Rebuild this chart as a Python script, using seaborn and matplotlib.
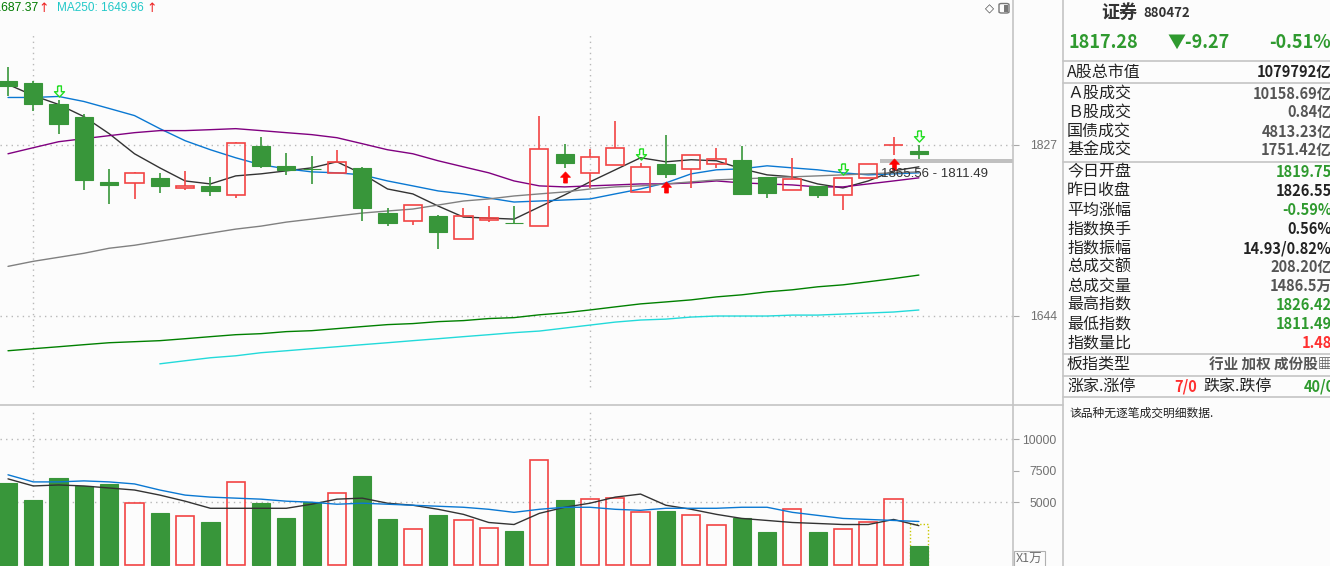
import numpy as np
import pandas as pd
import matplotlib
matplotlib.use("Agg")
import matplotlib.pyplot as plt
import matplotlib.transforms as mtransforms
from matplotlib.lines import Line2D
from matplotlib.patches import FancyBboxPatch
import seaborn as sns

# ── Daily candles (index 880472 证券) ─────────────────────────
opens = [1894.8, 1892.7, 1870.1, 1857.1, 1787.2, 1786.1, 1791.5, 1780.7, 1782.9, 1773.2,
         1825.9, 1804.4, 1801.2, 1796.9, 1802.2, 1753.8, 1745.2, 1750.6, 1725.8, 1746.3,
         1743.6, 1739.8, 1817.3, 1796.9, 1805.5, 1776.4, 1806.5, 1801.2, 1806.5, 1810.9,
         1792.6, 1778.6, 1782.9, 1773.2, 1791.5, 1826.4, 1819.75]
closes = [1889.4, 1871.1, 1849.6, 1789.3, 1783.9, 1796.9, 1782.9, 1782.9, 1777.5, 1829.2,
          1804.4, 1800.1, 1800.6, 1808.7, 1759.2, 1743.0, 1762.4, 1733.3, 1750.6, 1748.4,
          1743.0, 1822.7, 1807.6, 1814.1, 1823.8, 1803.3, 1795.8, 1816.2, 1811.9, 1774.3,
          1775.3, 1790.4, 1773.2, 1791.5, 1806.5, 1826.55, 1817.28]
highs = [1909.9, 1894.8, 1874.4, 1860.4, 1801.2, 1797.9, 1796.9, 1799.0, 1792.6, 1830.2,
         1835.6, 1818.4, 1815.2, 1821.6, 1803.3, 1759.2, 1762.4, 1751.6, 1759.2, 1761.3,
         1761.3, 1858.2, 1828.1, 1822.7, 1852.8, 1807.6, 1837.8, 1816.2, 1823.8, 1825.9,
         1792.6, 1813.0, 1782.9, 1791.5, 1806.5, 1835.6, 1826.42]
lows = [1879.7, 1863.6, 1838.8, 1778.6, 1763.5, 1768.9, 1775.3, 1778.6, 1772.1, 1769.9,
        1802.2, 1794.7, 1785.0, 1796.9, 1745.2, 1739.8, 1740.9, 1715.0, 1725.8, 1744.1,
        1743.0, 1739.8, 1802.2, 1780.7, 1805.5, 1776.4, 1791.5, 1780.7, 1802.2, 1774.3,
        1769.9, 1778.6, 1769.9, 1757.0, 1791.5, 1816.2, 1811.49]

# moving averages
ma5 = [1891.6, 1879.7, 1870.1, 1857.1, 1838.8, 1817.3, 1802.2, 1788.2, 1785.0, 1793.6,
       1795.8, 1799.0, 1802.2, 1808.7, 1795.8, 1779.6, 1774.3, 1761.3, 1749.5, 1748.4,
       1747.3, 1760.3, 1773.2, 1787.2, 1800.1, 1813.0, 1808.7, 1810.9, 1809.8, 1801.2,
       1794.7, 1792.6, 1785.0, 1780.7, 1788.2, 1799.0, 1803.3]
ma10 = [1877.6, 1877.6, 1878.7, 1873.3, 1865.8, 1858.2, 1844.2, 1831.3, 1821.6, 1813.0,
        1805.5, 1801.2, 1797.9, 1796.9, 1794.7, 1788.2, 1782.9, 1777.5, 1774.3, 1769.9,
        1765.6, 1766.7, 1767.8, 1768.9, 1774.3, 1779.6, 1786.1, 1795.8, 1800.1, 1801.2,
        1804.4, 1802.2, 1800.1, 1796.9, 1794.7, 1795.8, 1796.9]
ma20 = [1817.3, 1823.8, 1830.2, 1833.5, 1836.7, 1839.9, 1842.1, 1842.1, 1843.1, 1844.2,
        1842.1, 1839.9, 1837.8, 1834.5, 1828.1, 1821.6, 1817.3, 1809.8, 1803.3, 1796.9,
        1788.2, 1782.9, 1781.8, 1782.9, 1783.9, 1785.0, 1785.0, 1786.1, 1788.2, 1786.1,
        1785.0, 1783.9, 1781.8, 1781.8, 1785.0, 1788.2, 1791.5]
ma60 = [1696.7, 1702.1, 1706.4, 1710.7, 1716.1, 1719.3, 1723.7, 1728.0, 1732.3, 1736.6,
        1739.8, 1744.1, 1747.3, 1750.6, 1753.8, 1756.0, 1758.1, 1762.4, 1766.7, 1768.9,
        1772.1, 1774.3, 1776.4, 1779.6, 1781.8, 1782.9, 1785.0, 1787.2, 1789.3, 1790.4,
        1791.5, 1792.6, 1793.6, 1794.7, 1795.8, 1796.9, 1797.9]
ma120 = [1606.3, 1608.5, 1610.6, 1612.8, 1614.9, 1616.0, 1617.1, 1619.2, 1621.4, 1623.5,
         1624.6, 1626.8, 1627.8, 1630.0, 1632.2, 1634.3, 1635.4, 1637.5, 1638.6, 1640.8,
         1641.8, 1644.8, 1647.0, 1650.0, 1653.3, 1656.5, 1658.6, 1660.8, 1664.0, 1666.2,
         1669.4, 1671.6, 1674.8, 1676.9, 1680.2, 1683.6, 1687.37]
ma250 = [None, None, None, None, None, None, 1592.3, 1595.6, 1598.8, 1600.9,
         1604.2, 1606.3, 1608.5, 1610.6, 1612.8, 1614.9, 1617.1, 1619.2, 1621.4, 1623.5,
         1625.7, 1627.4, 1630.6, 1633.8, 1637.0, 1639.2, 1640.2, 1642.4, 1643.5, 1643.5,
         1643.5, 1644.5, 1644.5, 1645.6, 1646.7, 1647.8, 1649.96]

volumes = [6533, 5161, 6936, 6291, 6452, 4920, 4113, 3871, 3387, 6613,
           4920, 3710, 5000, 5726, 7097, 3629, 2903, 3952, 3548, 2984,
           2742, 8387, 5161, 5242, 5323, 4194, 4274, 3952, 3226, 3710,
           2661, 4436, 2661, 2903, 3387, 5242, 1486.5]
vol_ma5 = [6855, 6291, 6371, 6291, 6129, 5968, 5565, 5081, 4516, 4516,
           4516, 4516, 4839, 5242, 5323, 4920, 4758, 4436, 4033, 3387,
           3226, 4113, 4597, 4920, 5404, 5646, 4758, 4436, 4033, 3710,
           3549, 3387, 3307, 3226, 3226, 3629, 3136]
vol_ma10 = [7178, 6613, 6613, 6694, 6613, 6452, 5968, 5565, 5404, 5323,
            5242, 5081, 5000, 4839, 4920, 4839, 4758, 4678, 4597, 4436,
            4194, 4436, 4597, 4597, 4436, 4355, 4516, 4516, 4516, 4597,
            4597, 4194, 3952, 3710, 3629, 3549, 3468]
est_volume = 3280          # projected full-day volume of the last bar

sell_signals = [2, 25, 33, 36]
buy_signals = [22, 26, 35]
month_starts = [1, 23]

price_ticks = [1827, 1644]
vol_ticks = [10000, 7500, 5000]
vol_grid = [10000, 5000]
band_price = (1807.6, 1811.9)
range_text = "1865.56 - 1811.49"

info_sections = [
    [("A股总市值", "1079792亿", "dark")],
    [("Ａ股成交", "10158.69亿", "gray"), ("Ｂ股成交", "0.84亿", "gray"),
     ("国债成交", "4813.23亿", "gray"), ("基金成交", "1751.42亿", "gray")],
    [("今日开盘", "1819.75", "green"), ("昨日收盘", "1826.55", "dark"),
     ("平均涨幅", "-0.59%", "green"), ("指数换手", "0.56%", "dark"),
     ("指数振幅", "14.93/0.82%", "dark"), ("总成交额", "208.20亿", "gray"),
     ("总成交量", "1486.5万", "gray"), ("最高指数", "1826.42", "green"),
     ("最低指数", "1811.49", "green"), ("指数量比", "1.48", "red")],
    [("板指类型", "行业 加权 成份股▦", "gray")],
]

# ── Style ──────────────────────────────────────────────────
BG = "#fcfcfc"
RED = "#f24444"
GREEN = "#38963a"
TXT_GREEN = "#2f9a2f"
LIME = "#22dd22"
LINE = "#c4c4c4"
COLORS = {"dark": "#222222", "gray": "#555555", "green": TXT_GREEN, "red": "#ff3030"}
MA_COLORS = {"MA5": "#333333", "MA10": "#0a78d2", "MA20": "#800080",
             "MA60": "#808080", "MA120": "#008000", "MA250": "#22dada"}

W, H = 1330, 566


def fx(px):
    return px / W


def fy(py):
    return 1 - py / H


sns.set_theme(style="white")
plt.rcParams["font.family"] = ["Noto Sans CJK SC", "DejaVu Sans"]
plt.rcParams["axes.unicode_minus"] = False

fig = plt.figure(figsize=(13.3, 5.66), dpi=100, facecolor=BG)
ax = fig.add_axes([0, fy(405), fx(1013), 405 / H], facecolor=BG)
axv = fig.add_axes([0, 0, fx(1013), 161 / H], facecolor=BG)

idx = np.arange(len(closes))
o, c = np.array(opens), np.array(closes)
hi, lo = np.array(highs), np.array(lows)
up = c >= o
body_lo = np.minimum(o, c)
body_hi = np.maximum(o, c)
body_h = np.maximum(body_hi - body_lo, 0.3)

# ── Price panel ────────────────────────────────────────────
ma_df = pd.DataFrame({"idx": idx, "MA5": ma5, "MA10": ma10, "MA20": ma20,
                      "MA60": ma60, "MA120": ma120,
                      "MA250": pd.to_numeric(pd.Series(ma250), errors="coerce")})
for name, col in MA_COLORS.items():
    sub = ma_df[["idx", name]].dropna()
    sns.lineplot(data=sub, x="idx", y=name, color=col, lw=1.0, ax=ax,
                 estimator=None, sort=False, legend=False, zorder=2)

# wicks
ax.vlines(idx[~up], lo[~up], hi[~up], color=GREEN, lw=1.2, zorder=3)
ax.vlines(idx[up], body_hi[up], hi[up], color=RED, lw=1.2, zorder=3)
ax.vlines(idx[up], lo[up], body_lo[up], color=RED, lw=1.2, zorder=3)
# bodies
ax.bar(idx[~up], body_h[~up], bottom=body_lo[~up], width=0.72,
       color=GREEN, edgecolor=GREEN, lw=0.8, zorder=4)
ax.bar(idx[up], body_h[up], bottom=body_lo[up], width=0.72,
       facecolor="none", edgecolor=RED, lw=1.2, zorder=4)

# buy / sell arrows
up_arrow = [(-0.17, -0.5), (0.17, -0.5), (0.17, 0.02), (0.45, 0.02), (0, 0.5),
            (-0.45, 0.02), (-0.17, 0.02), (-0.17, -0.5)]
down_arrow = [(x, -y) for x, y in up_arrow]
above = mtransforms.offset_copy(ax.transData, fig=fig, y=6.5, units="points")
below = mtransforms.offset_copy(ax.transData, fig=fig, y=-6.5, units="points")
ax.plot(idx[sell_signals], hi[sell_signals], ls="none", marker=down_arrow, ms=8,
        mfc="none", mec=LIME, mew=1.0, transform=above, zorder=5)
ax.plot(idx[buy_signals], lo[buy_signals], ls="none", marker=up_arrow, ms=8,
        mfc="#ff0000", mec="#ff0000", mew=0.5, transform=below, zorder=5)

xlim = (-0.316, 39.72)
ax.set_xlim(*xlim)
ax.set_ylim(1548.2, 1982.0)

# grid
for p in price_ticks:
    ax.axhline(p, color="#b8b8b8", lw=1, ls=(0, (1, 3)), zorder=1)
for m in month_starts:
    ax.axvline(m, ymin=0.044, ymax=0.915, color="#b8b8b8", lw=1, ls=(0, (1, 3)), zorder=1)

# selected range band and label
band_x0 = 34.47
ax.axhspan(*band_price, xmin=(band_x0 - xlim[0]) / (xlim[1] - xlim[0]), xmax=1,
           color="#c0c0c0", lw=0, zorder=1)
ax.text(band_x0 + 0.05, 1795.8, range_text, ha="left", va="center", fontsize=9.5,
        color="#333333", family=["Liberation Sans Narrow", "Liberation Sans"], zorder=6)

ax.yaxis.tick_right()
ax.set_yticks(price_ticks)
ax.set_yticklabels([str(p) for p in price_ticks], ha="right")
ax.tick_params(axis="y", direction="out", length=4.5, width=0.8, color="#a8a8a8",
               pad=27, labelcolor="#707070", labelsize=8.8, right=True,
               labelfontfamily="Liberation Sans")
ax.set_xticks([])
ax.set_xlabel("")
ax.set_ylabel("")
for s in ax.spines.values():
    s.set_visible(False)

# ── Volume panel ───────────────────────────────────────────
vol_df = pd.DataFrame({"idx": idx, "vol": volumes, "ma5": vol_ma5, "ma10": vol_ma10})
sns.barplot(data=vol_df, x="idx", y="vol", native_scale=True, width=0.72,
            color=GREEN, errorbar=None, ax=axv, zorder=3)
for patch in axv.patches:
    i = int(round(patch.get_x() + patch.get_width() / 2))
    if up[i]:
        patch.set_facecolor("none")
        patch.set_edgecolor(RED)
        patch.set_linewidth(1.2)
    else:
        patch.set_facecolor(GREEN)
        patch.set_edgecolor(GREEN)
        patch.set_linewidth(0.8)
axv.bar(idx[-1], est_volume, width=0.72, facecolor="none", edgecolor="#c8c800",
        lw=1.0, ls=(0, (1, 1.5)), zorder=2)
sns.lineplot(data=vol_df, x="idx", y="ma5", color=MA_COLORS["MA5"], lw=1.0, ax=axv,
             estimator=None, sort=False, legend=False, zorder=4)
sns.lineplot(data=vol_df, x="idx", y="ma10", color=MA_COLORS["MA10"], lw=1.0, ax=axv,
             estimator=None, sort=False, legend=False, zorder=4)

axv.set_xlim(*xlim)
axv.set_ylim(-72, 12727)
for v in vol_grid:
    axv.axhline(v, color="#b8b8b8", lw=1, ls=(0, (1, 3)), zorder=1)
for m in month_starts:
    axv.axvline(m, ymin=0.43, ymax=0.97, color="#b8b8b8", lw=1, ls=(0, (1, 3)), zorder=1)
axv.yaxis.tick_right()
axv.set_yticks(vol_ticks)
axv.set_yticklabels([str(v) for v in vol_ticks], ha="right")
axv.tick_params(axis="y", direction="out", length=4.5, width=0.8, color="#a8a8a8",
                pad=27, labelcolor="#707070", labelsize=8.8, right=True,
                labelfontfamily="Liberation Sans")
axv.set_xticks([])
axv.set_xlabel("")
axv.set_ylabel("")
for s in axv.spines.values():
    s.set_visible(False)

fig.text(fx(1016), fy(559), "X1万", ha="left", va="center", fontsize=9, color="#707070",
         bbox=dict(boxstyle="square,pad=0.15", fc=BG, ec="#b0b0b0", lw=0.8))

# ── Frame lines ────────────────────────────────────────────
frame = [((1013, 1013), (0, 566)), ((1063, 1063), (0, 566)), ((0, 1063), (405, 405))]
for xs, ys in frame:
    fig.add_artist(Line2D([fx(x) for x in xs], [fy(y) for y in ys], color=LINE, lw=1.2))

# ── Header legends ─────────────────────────────────────────
fig.text(fx(38), fy(8), "MA120: 1687.37", ha="right", va="center", fontsize=8.7,
         color="#007a00", family="Liberation Sans")
fig.text(fx(44), fy(8), "↑", ha="center", va="center", fontsize=9, color="#ee2222",
         family="DejaVu Sans")
fig.text(fx(57), fy(8), "MA250: 1649.96", ha="left", va="center", fontsize=8.5,
         color="#22c8c8", family="Liberation Sans")
fig.text(fx(152), fy(8), "↑", ha="center", va="center", fontsize=9, color="#ee2222",
         family="DejaVu Sans")
fig.text(fx(989), fy(9), "◇", ha="center", va="center", fontsize=8.5, color="#444444",
         family="DejaVu Sans")
fig.add_artist(FancyBboxPatch((fx(999), fy(13)), fx(10), 9.5 / H,
                              boxstyle="round,pad=0,rounding_size=0.002",
                              fc=BG, ec="#777777", lw=1))
fig.add_artist(FancyBboxPatch((fx(1004), fy(12)), fx(4), 7.5 / H,
                              boxstyle="square,pad=0", fc="#777777", ec="none"))

# ── Info panel ─────────────────────────────────────────────
fig.text(fx(1101), fy(12), "证券", ha="left", va="center", fontsize=13,
         fontweight="bold", color="#333333")
fig.text(fx(1143), fy(13), "880472", ha="left", va="center", fontsize=9.5,
         fontweight="bold", color="#333333")
fig.text(fx(1069), fy(42), "1817.28", ha="left", va="center", fontsize=13,
         fontweight="bold", color=TXT_GREEN)
fig.text(fx(1167), fy(42), "▼-9.27", ha="left", va="center", fontsize=13,
         fontweight="bold", color=TXT_GREEN)
fig.text(fx(1331), fy(42), "-0.51%", ha="right", va="center", fontsize=13,
         fontweight="bold", color=TXT_GREEN)


def hline(y):
    fig.add_artist(Line2D([fx(1063), fx(1330)], [fy(y), fy(y)], color=LINE, lw=1.2))


row_h, gap = 19, 2.5
y = 72
hline(61)
for k, section in enumerate(info_sections):
    for label, value, tone in section:
        fig.text(fx(1067), fy(y), label, ha="left", va="center", fontsize=11.5,
                 color="#222222")
        fig.text(fx(1332), fy(y), value, ha="right", va="center", fontsize=10.5,
                 fontweight="bold", color=COLORS[tone])
        y += row_h
    y += gap
    hline(y - row_h / 2 - gap / 2 + 0.5)

# limit-up / limit-down row
fig.text(fx(1067), fy(y), "涨家.涨停", ha="left", va="center", fontsize=11.5, color="#222222")
fig.text(fx(1197), fy(y), "7/0", ha="right", va="center", fontsize=10.5,
         fontweight="bold", color=COLORS["red"])
fig.text(fx(1203), fy(y), "跌家.跌停", ha="left", va="center", fontsize=11.5, color="#222222")
fig.text(fx(1335), fy(y), "40/0", ha="right", va="center", fontsize=10.5,
         fontweight="bold", color=TXT_GREEN)
hline(y + 11)
fig.text(fx(1069), fy(y + 27), "该品种无逐笔成交明细数据.", ha="left", va="center",
         fontsize=8.5, color="#222222")

fig.savefig("out.png", dpi=100, facecolor=BG)
